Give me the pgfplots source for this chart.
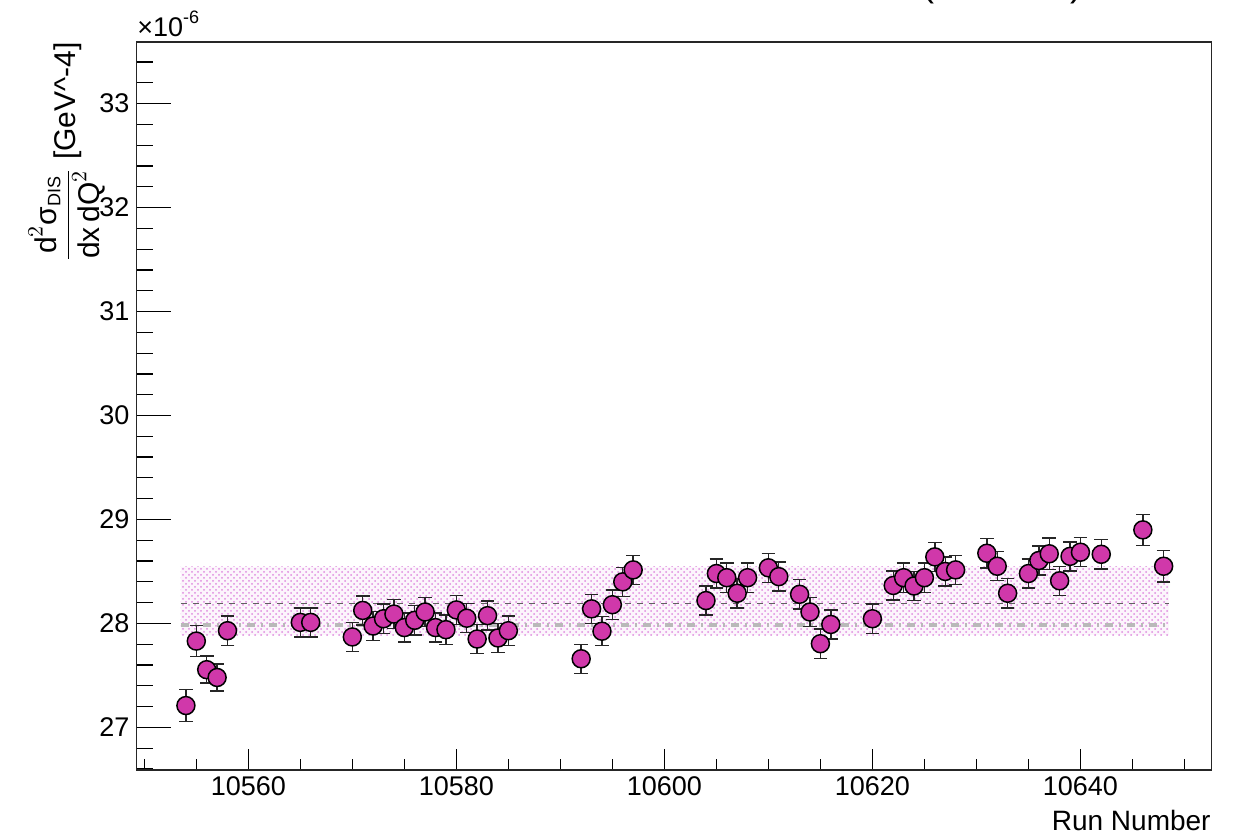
\documentclass[border=0pt]{standalone}
\usepackage{fontspec}
\setmainfont{Liberation Sans}
\usepackage{amsmath}
\usepackage{pgfplots}
\pgfplotsset{compat=1.18}
\usetikzlibrary{patterns}
\definecolor{ptfill}{RGB}{208,56,170}
\definecolor{bandc}{RGB}{214,110,214}

\pgfplotstableread{
x y e
10554 27.21 0.155
10555 27.83 0.15
10556 27.555 0.13
10557 27.48 0.13
10558 27.93 0.14
10565 28.01 0.14
10566 28.01 0.14
10570 27.87 0.14
10571 28.125 0.14
10572 27.975 0.14
10573 28.045 0.14
10574 28.09 0.14
10575 27.96 0.14
10576 28.03 0.14
10577 28.11 0.14
10578 27.96 0.14
10579 27.94 0.14
10580 28.13 0.14
10581 28.05 0.14
10582 27.85 0.14
10583 28.075 0.14
10584 27.86 0.14
10585 27.93 0.14
10592 27.66 0.14
10593 28.14 0.14
10594 27.925 0.14
10595 28.18 0.14
10596 28.40 0.14
10597 28.515 0.14
10604 28.22 0.14
10605 28.48 0.14
10606 28.44 0.14
10607 28.29 0.14
10608 28.44 0.14
10610 28.535 0.14
10611 28.45 0.14
10613 28.28 0.14
10614 28.11 0.14
10615 27.805 0.14
10616 27.99 0.14
10620 28.045 0.14
10622 28.365 0.14
10623 28.44 0.14
10624 28.36 0.14
10625 28.44 0.14
10626 28.64 0.14
10627 28.50 0.14
10628 28.515 0.14
10631 28.675 0.14
10632 28.55 0.14
10633 28.29 0.14
10635 28.48 0.14
10636 28.605 0.14
10637 28.67 0.15
10638 28.41 0.14
10639 28.645 0.14
10640 28.685 0.14
10642 28.665 0.14
10646 28.90 0.15
10648 28.55 0.15
}\runs

\begin{document}
\begin{tikzpicture}
\useasboundingbox (0,0) rectangle (619pt,418pt);
\fill[white] (0,0) rectangle (619pt,418pt);
\begin{axis}[
  at={(68.25pt,33pt)}, anchor=south west,
  scale only axis, width=537.5pt, height=363.85pt,
  xmin=10549.25, xmax=10652.6, ymin=26.59, ymax=33.59,
  xtick={10560,10580,...,10640},
  minor xtick={10550,10555,...,10650},
  ytick={27,28,...,33},
  minor ytick={26.6,26.8,...,33.6},
  xtick pos=bottom, ytick pos=left,
  tick align=inside,
  axis line style={black!85, line width=0.9pt},
  tick style={black, line width=0.6pt},
  x tick style={/pgfplots/major tick length=10.5pt, /pgfplots/minor tick length=5.5pt},
  y tick style={/pgfplots/major tick length=17.5pt, /pgfplots/minor tick length=8.5pt},
  /pgf/number format/assume math mode=true,
  /pgf/number format/set thousands separator={},
  scaled ticks=false,
  ticklabel style={font=\fontsize{13.5}{15}\selectfont},
  clip=false,
]
\addplot[draw=none, fill=bandc!7, postaction={pattern=crosshatch dots, pattern color=bandc!80}]
  coordinates {(10553.5,27.885) (10648.5,27.885) (10648.5,28.545) (10553.5,28.545)} -- cycle;
\addplot[gray!75!black, line width=0.5pt, dash pattern=on 3pt off 3pt]
  coordinates {(10553.5,28.19) (10648.5,28.19)};
\addplot[gray!55, line width=1.6pt, dash pattern=on 4pt off 3pt on 1pt off 3pt]
  coordinates {(10553.5,27.985) (10648.5,27.985)};
\addplot[only marks, mark=*, mark size=4.5pt,
  mark options={fill=ptfill, draw=black, line width=0.75pt},
  error bars/.cd, y dir=both, y explicit,
  error bar style={black!85, line width=0.7pt},
  error mark options={black!85, rotate=90, mark size=3.4pt, line width=0.7pt}]
  table[x=x, y=y, y error=e] {\runs};
\end{axis}
\node[anchor=base west, inner sep=0, font=\fontsize{13.5}{15}\selectfont] at (68.5pt,399.5pt)
  {×10\raisebox{0.5em}{\fontsize{9}{10}\selectfont -6}};
\node[anchor=base, inner sep=0, font=\fontsize{18}{20}\selectfont] at (464pt,419.8pt) {(};
\node[anchor=base, inner sep=0, font=\fontsize{18}{20}\selectfont] at (538pt,419.8pt) {)};
\node[anchor=base east, inner sep=0, font=\fontsize{14}{16}\selectfont] at (605.5pt,2.5pt) {Run Number};
\node[rotate=90, anchor=east, inner sep=0, font=\fontsize{15}{17}\selectfont] at (33.5pt,397pt)
  {$\dfrac{\text{d}^{2}\text{σ}_{\text{\fontsize{9}{10}\selectfont DIS}}}{\text{dx}_{\,}\text{dQ}^{2}}$ [GeV\textasciicircum-4]};
\end{tikzpicture}
\end{document}
